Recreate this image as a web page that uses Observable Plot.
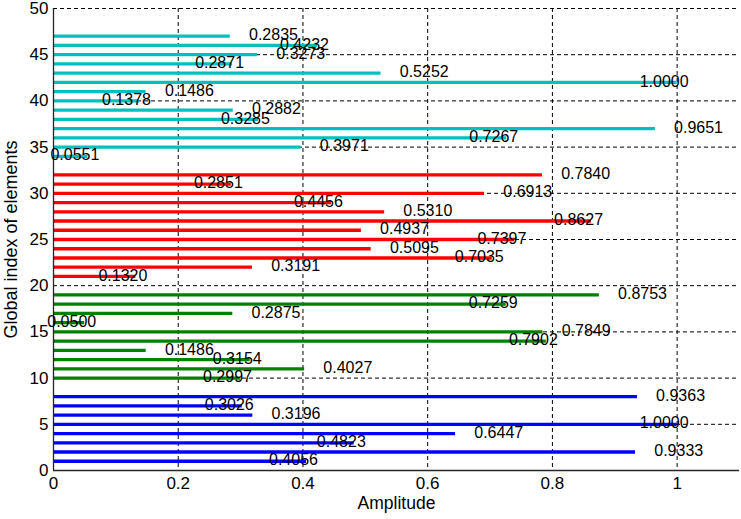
<!DOCTYPE html>
<html>
<head>
<meta charset="utf-8">
<script src="https://cdn.jsdelivr.net/npm/d3@7"></script>
<script src="https://cdn.jsdelivr.net/npm/@observablehq/plot@0.6"></script>
<style>
  html, body { margin: 0; padding: 0; background: #ffffff; }
  #chart { width: 741px; height: 519px; }
</style>
</head>
<body>
<div id="chart"></div>
<script>
// ---- data ----
const blueIndex = [1, 2, 3, 4, 5, 6, 7, 8];
const blueValues = [0.4056, 0.9333, 0.4823, 0.6447, 1.0000, 0.3196, 0.3026, 0.9363];

const greenIndex = [10, 11, 12, 13, 14, 15, 16, 17, 18, 19];
const greenValues = [0.2997, 0.4027, 0.3154, 0.1486, 0.7902, 0.7849, 0.0500, 0.2875, 0.7259, 0.8753];

const redIndex = [21, 22, 23, 24, 25, 26, 27, 28, 29, 30, 31, 32];
const redValues = [0.1320, 0.3191, 0.7035, 0.5095, 0.7397, 0.4937, 0.8627, 0.5310, 0.4456, 0.6913, 0.2851, 0.7840];

const cyanIndex = [34, 35, 36, 37, 38, 39, 40, 41, 42, 43, 44, 45, 46, 47];
const cyanValues = [0.0551, 0.3971, 0.7267, 0.9651, 0.3285, 0.2882, 0.1378, 0.1486, 1.0000, 0.5252, 0.2871, 0.3273, 0.4232, 0.2835];

const groupNames = ["blue", "green", "red", "cyan"];
const groupColors = ["#0000ff", "#008000", "#ff0000", "#00bfbf"];

const xTicks = [0, 0.2, 0.4, 0.6, 0.8, 1];
const xTickLabels = ["0", "0.2", "0.4", "0.6", "0.8", "1"];
const yTicks = [0, 5, 10, 15, 20, 25, 30, 35, 40, 45, 50];
const yTickLabels = ["0", "5", "10", "15", "20", "25", "30", "35", "40", "45", "50"];

const xTitle = "Amplitude";
const yTitle = "Global index of elements";

// ---- table ----
const groupData = [
  [blueIndex, blueValues],
  [greenIndex, greenValues],
  [redIndex, redValues],
  [cyanIndex, cyanValues]
];
const rows = groupData.flatMap(([idx, vals], g) =>
  idx.map((e, k) => ({group: groupNames[g], color: groupColors[g], idx: e, v: vals[k], k}))
);

const font = "'Liberation Sans', Arial, Helvetica, sans-serif";

const chart = Plot.plot({
  width: 741,
  height: 519,
  marginLeft: 53,
  marginRight: 2,
  marginTop: 8,
  marginBottom: 49,
  x: {
    domain: [0, 1.1],
    ticks: xTicks,
    tickFormat: d => xTickLabels[xTicks.indexOf(d)],
    tickSize: 0,
    tickPadding: 6,
    label: null
  },
  y: {
    domain: [0, 50],
    ticks: yTicks,
    tickFormat: d => yTickLabels[yTicks.indexOf(d)],
    tickSize: 0,
    tickPadding: 5,
    label: null
  },
  style: {fontFamily: font, fontSize: "17px", background: "#ffffff", color: "#000000"},
  marks: [
    Plot.ruleY(yTicks.slice(1), {stroke: "#000000", strokeDasharray: "4,3", strokeWidth: 1}),
    Plot.ruleX(xTicks.slice(1), {stroke: "#000000", strokeDasharray: "4,3", strokeWidth: 1}),
    Plot.ruleY(rows, {y: "idx", x1: 0, x2: "v", stroke: d => d.color, strokeWidth: 3.3}),
    Plot.ruleX([0], {stroke: "#262626", strokeWidth: 1.3}),
    Plot.ruleY([0], {stroke: "#262626", strokeWidth: 1.3}),
    Plot.text(rows, {
      x: d => d.v + (d.k % 2 === 0 ? -0.06 : 0.03),
      y: "idx",
      text: d => d.v.toFixed(4),
      textAnchor: "start",
      fontSize: 16,
      dy: -1,
      fill: "#000000"
    }),
    Plot.text([xTitle], {frameAnchor: "bottom", textAnchor: "middle", dy: 38, fontSize: 17.5, fill: "#000000"}),
    Plot.text([yTitle], {frameAnchor: "left", textAnchor: "middle", rotate: -90, dx: -42, fontSize: 18, fill: "#000000"})
  ]
});

document.getElementById("chart").appendChild(chart);
</script>
</body>
</html>
